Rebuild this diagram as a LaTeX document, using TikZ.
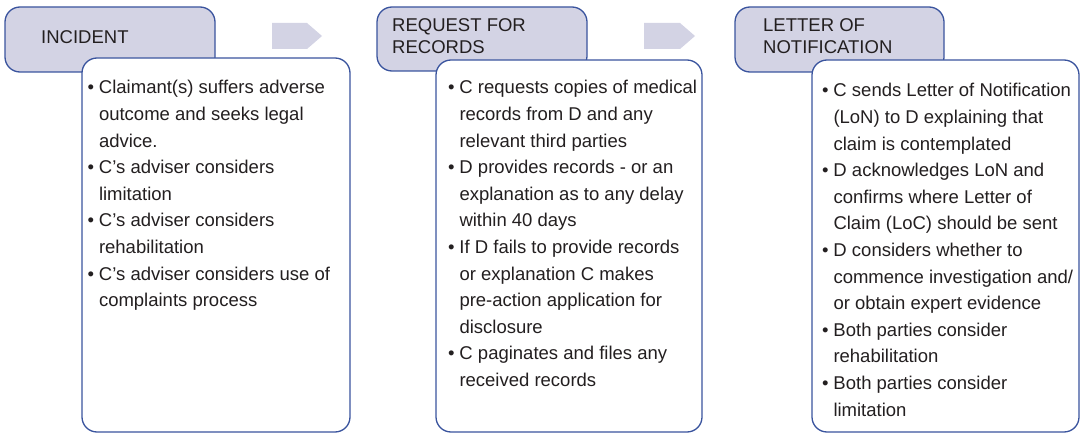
\documentclass[tikz,border=0pt]{standalone}
\usepackage{fontspec}
\setmainfont{Liberation Sans}
\definecolor{hdrfill}{RGB}{211,211,228}
\definecolor{bordblue}{RGB}{58,84,158}
\definecolor{txtgray}{RGB}{35,31,32}
\newcommand\bul{\makebox[11.3pt][l]{•}}
\newcommand\ind{\hspace*{11.3pt}}
\begin{document}
\begin{tikzpicture}[x=1pt,y=-1pt,
  hdrbox/.style={draw=bordblue,line width=1.3pt,fill=hdrfill,rounded corners=15pt},
  bodybox/.style={draw=bordblue,line width=1.3pt,fill=white,rounded corners=15pt},
  flowarrow/.style={fill=hdrfill,draw=none},
  hdrtext/.style={anchor=base west,inner sep=0pt,text=txtgray,font=\fontsize{18.5}{22}\selectfont},
  bodytext/.style={anchor=base west,inner sep=0pt,text=txtgray,font=\fontsize{18.5}{26.6}\selectfont}]
\useasboundingbox (0,0) rectangle (1080,433);
% headers
\draw[hdrbox] (5,7) rectangle (215,72);
\draw[hdrbox] (377,7) rectangle (587,71);
\draw[hdrbox] (735,7) rectangle (944,72);
% arrows
\fill[flowarrow] (272,23) -- (307,23) -- (322,36) -- (307,49) -- (272,49) -- cycle;
\fill[flowarrow] (644,23) -- (680,23) -- (695,36) -- (680,49) -- (644,49) -- cycle;
% bodies
\draw[bodybox] (82,58) rectangle (350,432);
\draw[bodybox] (436,60) rectangle (702,432);
\draw[bodybox] (812,60) rectangle (1079,432);
% header texts
\node[hdrtext] (h1) at (41,44) {INCIDENT};
\node[hdrtext] (h2) at (392,32) {\parbox[t]{190pt}{REQUEST FOR\\RECORDS}};
\node[hdrtext] (h3) at (763,32) {\parbox[t]{180pt}{LETTER OF\\NOTIFICATION}};
% body texts
\node[bodytext] (b1) at (87.5,94) {\parbox[t]{262pt}{\fontsize{18.5}{26.6}\selectfont
\bul Claimant(s) suffers adverse\\
\ind outcome and seeks legal\\
\ind advice.\\
\bul C’s adviser considers\\
\ind limitation\\
\bul C’s adviser considers\\
\ind rehabilitation\\
\bul C’s adviser considers use of\\
\ind complaints process}};
\node[bodytext] (b2) at (448,94) {\parbox[t]{262pt}{\fontsize{18.5}{26.6}\selectfont
\bul C requests copies of medical\\
\ind records from D and any\\
\ind relevant third parties\\
\bul D provides records - or an\\
\ind explanation as to any delay\\
\ind within 40 days\\
\bul If D fails to provide records\\
\ind or explanation C makes\\
\ind pre-action application for\\
\ind disclosure\\
\bul C paginates and files any\\
\ind received records}};
\node[bodytext] (b3) at (822,97) {\parbox[t]{262pt}{\fontsize{18.5}{26.6}\selectfont
\bul C sends Letter of Notification\\
\ind (LoN) to D explaining that\\
\ind claim is contemplated\\
\bul D acknowledges LoN and\\
\ind confirms where Letter of\\
\ind Claim (LoC) should be sent\\
\bul D considers whether to\\
\ind commence investigation and/\\
\ind or obtain expert evidence\\
\bul Both parties consider\\
\ind rehabilitation\\
\bul Both parties consider\\
\ind limitation}};
\end{tikzpicture}
\end{document}
